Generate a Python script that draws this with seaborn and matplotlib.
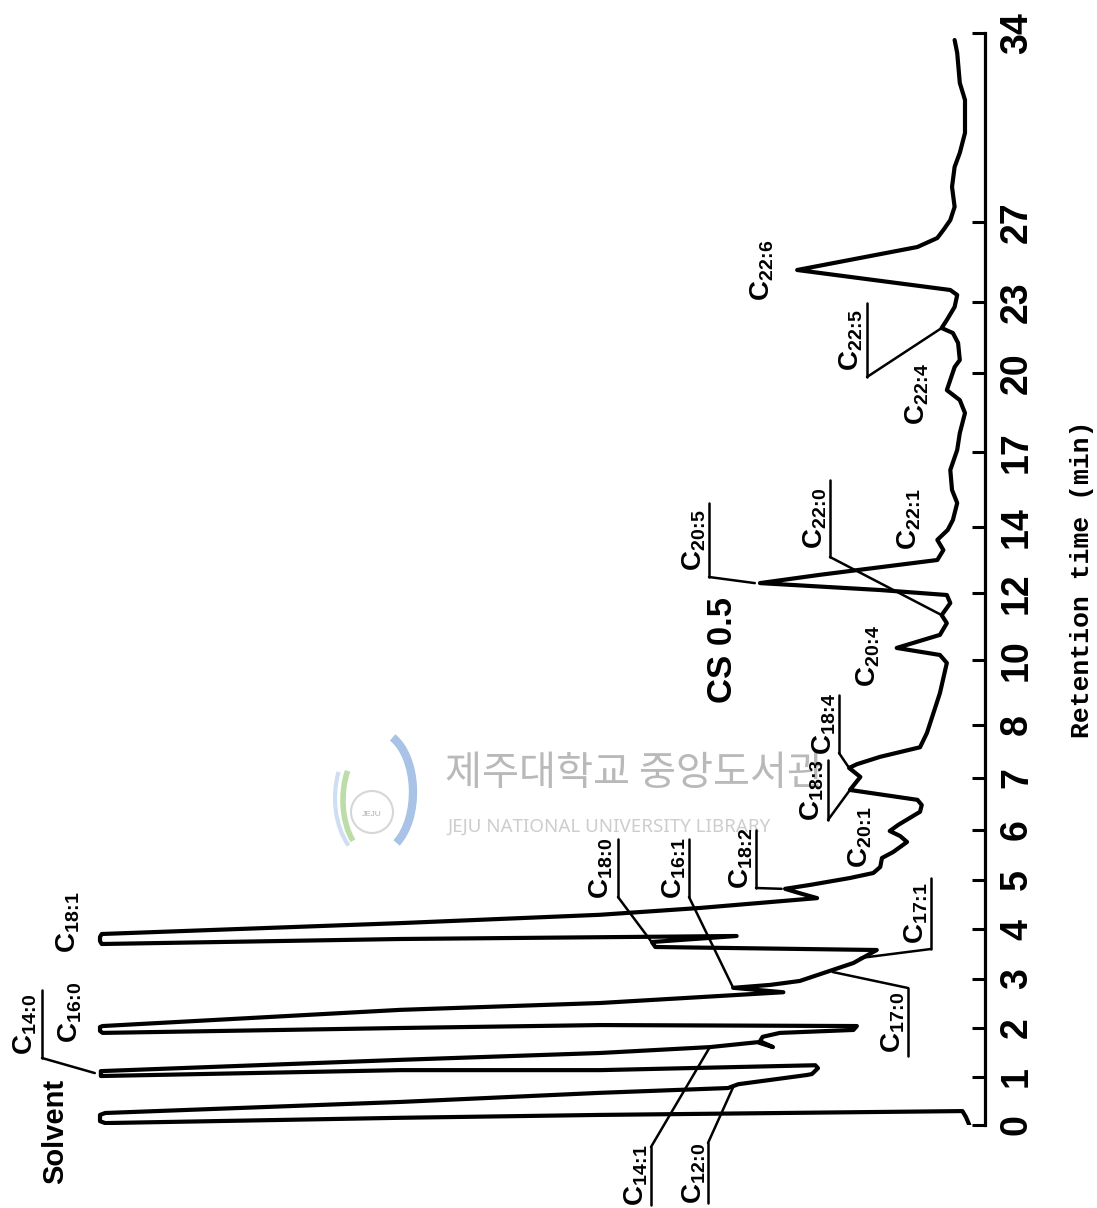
import numpy as np
import pandas as pd
import matplotlib
matplotlib.use("Agg")
import matplotlib.pyplot as plt
from matplotlib.lines import Line2D
from matplotlib.patches import Arc, Circle
import seaborn as sns

# ---------------------------------------------------------------------------
# Chromatogram trace (pen recorder): retention time (min) and response (% FS)
# ---------------------------------------------------------------------------
ret_time = [
    0.00, 0.17, 0.29, 0.21, 0.15, 0.04, 0.08, 0.21, 0.25, 0.48, 0.67, 0.77,
    0.85, 1.04, 1.06, 1.18, 1.24, 1.14, 1.14, 1.02, 1.12, 1.35, 1.49, 1.61,
    1.71, 1.61, 1.73, 1.82, 1.90, 1.96, 2.04, 2.06, 2.00, 1.90, 1.94, 2.02,
    2.04, 2.37, 2.51, 2.73, 2.82, 2.88, 2.96, 3.14, 3.32, 3.58, 3.64, 3.74,
    3.86, 3.80, 3.70, 3.76, 3.84, 3.90, 4.12, 4.29, 4.43, 4.63, 4.73, 4.82,
    4.90, 5.04, 5.14, 5.26, 5.44, 5.56, 5.76, 5.88, 5.98, 6.10, 6.23, 6.35,
    6.48, 6.58, 6.77, 7.02, 7.19, 7.26, 7.40, 7.58, 7.85, 8.98, 9.91, 10.15,
    10.36, 10.75, 11.10, 11.34, 11.70, 11.94, 12.09, 12.30, 12.55, 13.00,
    13.30, 13.61, 13.91, 14.28, 14.96, 15.48, 16.28, 17.08, 17.72, 18.22,
    18.48, 18.97, 19.35, 20.25, 20.55, 21.27, 21.69, 21.90, 22.24, 22.79,
    23.35, 23.60, 24.60, 25.75, 26.20, 26.60, 27.07, 27.56, 28.30, 29.04,
    29.56, 30.30, 31.52, 32.15, 33.26, 33.74,
]
response = [
    -0.5, -0.1, 0.3, 42.2, 65.3, 99.4, 100.0, 100.0, 99.4, 65.3, 42.2, 27.4,
    26.2, 18.3, 17.7, 17.0, 17.3, 42.2, 65.3, 99.9, 99.9, 65.3, 42.2, 29.5,
    24.0, 22.2, 23.7, 23.4, 21.4, 12.9, 12.5, 42.2, 65.3, 99.7, 100.0, 100.0,
    99.7, 65.3, 42.2, 21.0, 26.8, 22.5, 19.1, 16.0, 12.9, 10.2, 35.8, 36.2,
    26.4, 65.3, 99.8, 100.0, 100.0, 99.8, 65.3, 42.2, 30.6, 17.1, 19.1, 20.8,
    17.9, 13.3, 10.6, 9.8, 9.6, 8.3, 6.7, 7.5, 8.7, 7.7, 6.4, 5.2,
    5.0, 5.5, 13.3, 12.1, 13.4, 12.5, 9.8, 5.2, 4.4, 2.9, 2.1, 2.9,
    7.9, 2.9, 2.1, 2.7, 1.7, 2.1, 9.8, 23.7, 16.8, 3.2,
    2.5, 3.2, 2.0, 1.4, 0.9, 1.5, 1.7, 0.9, 0.6, 0.2,
    0.0, 0.6, 2.1, 1.2, 0.6, 0.8, 1.4, 2.7, 2.1, 1.2,
    0.9, 1.7, 19.4, 5.5, 3.2, 2.5, 1.7, 1.2, 1.5, 1.2,
    0.6, 0.0, 0.0, 0.6, 0.9, 1.2,
]

# Identified peaks that carry a leader line: (time, response) of the pointed spot
peak_names = ["C14:0", "C14:1", "C12:0", "C18:0", "C16:1", "C18:2", "C17:1",
              "C17:0", "C18:3", "C18:4", "C20:5", "C22:0", "C22:5"]
peak_times = [1.08, 1.61, 0.79, 3.64, 2.82, 4.82, 3.42,
              3.14, 6.77, 7.19, 12.30, 11.34, 21.90]
peak_resp = [100.6, 29.5, 26.8, 35.8, 26.8, 21.2, 12.1,
             15.3, 13.3, 13.4, 24.3, 2.7, 2.7]

# Hand-ruled time axis: labelled minutes and their distance along the chart
tick_minutes = [0, 1, 2, 3, 4, 5, 6, 7, 8, 10, 12, 14, 17, 20, 23, 27, 34]
tick_labels = ["0", "1", "2", "3", "4", "5", "6", "7", "8", "10", "12",
               "14", "17", "20", "23", "27", "34"]
chart_pos = [0, 48, 97, 146, 196, 245, 295, 347, 400, 465, 532, 598, 673,
             752, 823, 903, 1092]

W, H = 1097, 1208


def _extrap(v, xs, ys):
    v = np.asarray(v, dtype=float)
    out = np.interp(v, xs, ys)
    s0 = (ys[1] - ys[0]) / (xs[1] - xs[0])
    s1 = (ys[-1] - ys[-2]) / (xs[-1] - xs[-2])
    out = np.where(v < xs[0], ys[0] + (v - xs[0]) * s0, out)
    out = np.where(v > xs[-1], ys[-1] + (v - xs[-1]) * s1, out)
    return out


def time_fwd(t):
    return _extrap(t, tick_minutes, chart_pos)


def time_inv(p):
    return _extrap(p, chart_pos, tick_minutes)


def fxy(px, py):
    """Pixel position on the sheet -> figure fraction."""
    return px / W, 1 - py / H


sns.set_theme(style="white")
plt.rcParams["font.family"] = ["Liberation Sans", "DejaVu Sans"]
plt.rcParams["text.color"] = "black"
plt.rcParams["axes.labelcolor"] = "black"
plt.rcParams["ytick.color"] = "black"
plt.rcParams["xtick.color"] = "black"
plt.rcParams["mathtext.fontset"] = "custom"
plt.rcParams["mathtext.rm"] = "Liberation Sans:bold"
plt.rcParams["mathtext.it"] = "Liberation Sans:bold"
plt.rcParams["mathtext.bf"] = "Liberation Sans:bold"
plt.rcParams["mathtext.default"] = "rm"

fig = plt.figure(figsize=(W / 100, H / 100), dpi=100)
fig.patch.set_facecolor("white")

# Sheet overlay (pixel units) for the library stamp emblem
sheet = fig.add_axes([0, 0, 1, 1], zorder=0)
sheet.set_xlim(0, W)
sheet.set_ylim(H, 0)
sheet.set_aspect("equal")
sheet.axis("off")
sheet.add_patch(Arc((378, 792), 70, 120, theta1=-75, theta2=70,
                    color="#a8c3e6", lw=6))
sheet.add_patch(Arc((372, 800), 58, 108, theta1=115, theta2=230,
                    color="#bcdca8", lw=4))
sheet.add_patch(Arc((376, 798), 82, 128, theta1=120, theta2=215,
                    color="#cfdff2", lw=3))
sheet.add_patch(Circle((372, 812), 21, fill=False, ec="#d6d6d6", lw=1.5))
sheet.text(372, 815, "JEJU", fontsize=6, color="#b0b0b0", ha="center",
           va="center")

ax = fig.add_axes([0, (H - 1125) / H, 985 / W, (1125 - 33) / H], zorder=1)
ax.set_facecolor("none")

df = pd.DataFrame({"time": ret_time, "response": response})
sns.lineplot(data=df, x="response", y="time", sort=False, estimator=None,
             color="black", linewidth=3.0, ax=ax,
             solid_joinstyle="round", solid_capstyle="round")

ax.set_yscale("function", functions=(time_fwd, time_inv))
ax.set_ylim(0, 34)
ax.set_xlim(965 / 8.65, -20 / 8.65)

for side in ["left", "top", "bottom"]:
    ax.spines[side].set_visible(False)
ax.spines["right"].set_linewidth(2.3)
ax.spines["right"].set_color("black")
ax.set_xticks([])
ax.set_xlabel("")
ax.yaxis.tick_right()
ax.set_yticks(tick_minutes)
ax.set_yticklabels(tick_labels)
ax.yaxis.set_minor_locator(matplotlib.ticker.NullLocator())
ax.tick_params(axis="y", which="major", direction="in", length=9.5,
               width=2.2, color="black", labelcolor="black", right=True,
               left=False, labelright=True, labelleft=False,
               labelrotation=90, pad=10, labelsize=27)
for lab in ax.get_yticklabels():
    lab.set_fontweight("bold")
    lab.set_va("center")
    lab.set_ha("left")

ax.set_ylabel("Retention time (min)", family="Liberation Mono",
              fontweight="bold", fontsize=19, rotation=90, color="black")
ax.yaxis.set_label_position("right")
ax.yaxis.label.set(ha="center", va="center")
ax.yaxis.set_label_coords(1082 / 985, 0.5)

# Library stamp text in the middle of the sheet
fig.text(*fxy(445, 774), "제주대학교 중앙도서관", family=["Noto Sans CJK KR", "DejaVu Sans"],
         fontsize=29, color="#b9b9b9", ha="left", va="center", zorder=0)
fig.text(*fxy(447, 827), "JEJU NATIONAL UNIVERSITY LIBRARY",
         family=["Noto Sans", "DejaVu Sans"], fontsize=13.5, color="#cdcdcd",
         ha="left", va="center", zorder=0)


def clabel(name):
    sub = name[1:]
    a, b = sub.split(":")
    return r"$C_{%s\!:\!%s}$" % (a, b)


# label: text, centre (px), underline (x, y_start, y_end) or None, leader start
labels = [
    ("C14:0", (25, 1024), (42, 990, 1058), 1058),
    ("C16:0", (70, 1012), None, None),
    ("C18:1", (68, 922), None, None),
    ("C14:1", (636, 1175), (651, 1147, 1205), 1147),
    ("C12:0", (694, 1173), (708, 1143, 1203), 1143),
    ("C18:0", (601, 868), (618, 839, 897), 897),
    ("C16:1", (674, 868), (689, 839, 897), 897),
    ("C18:2", (741, 858), (756, 830, 888), 888),
    ("C17:1", (916, 913), (931, 878, 949), 949),
    ("C17:0", (893, 1022), (908, 988, 1056), 988),
    ("C20:1", (860, 837), None, None),
    ("C18:3", (812, 790), (828, 760, 820), 820),
    ("C18:4", (824, 724), (839, 695, 753), 753),
    ("C20:4", (868, 656), None, None),
    ("C20:5", (694, 540), (709, 503, 577), 577),
    ("C22:0", (815, 518), (830, 480, 557), 557),
    ("C22:1", (909, 519), None, None),
    ("C22:6", (762, 270), None, None),
    ("C22:5", (851, 340), (867, 303, 377), 377),
    ("C22:4", (917, 394), None, None),
]

peak_lookup = {n: (t, r) for n, t, r in zip(peak_names, peak_times, peak_resp)}

for name, (cx, cy), uline, lead in labels:
    fig.text(*fxy(cx, cy), clabel(name), fontsize=20, rotation=90,
             ha="center", va="center", color="black", zorder=3)
    if uline is not None:
        ux, y0, y1 = uline
        (x0f, y0f), (x1f, y1f) = fxy(ux, y0), fxy(ux, y1)
        fig.add_artist(Line2D([x0f, x1f], [y0f, y1f], transform=fig.transFigure,
                              color="black", lw=1.8, zorder=3))
        t, r = peak_lookup[name]
        ax.annotate("", xy=(r, t), xycoords="data",
                    xytext=fxy(ux, lead), textcoords="figure fraction",
                    arrowprops=dict(arrowstyle="-", color="black", lw=1.8,
                                    shrinkA=0, shrinkB=0),
                    annotation_clip=False)

fig.text(*fxy(55, 1131), "Solvent", fontsize=21, fontweight="bold",
         rotation=90, ha="center", va="center", color="black", zorder=3)
fig.text(*fxy(723, 650), "CS 0.5", fontsize=25, fontweight="bold",
         rotation=90, ha="center", va="center", color="black", zorder=3)

fig.savefig("out.png", dpi=100, facecolor="white")
